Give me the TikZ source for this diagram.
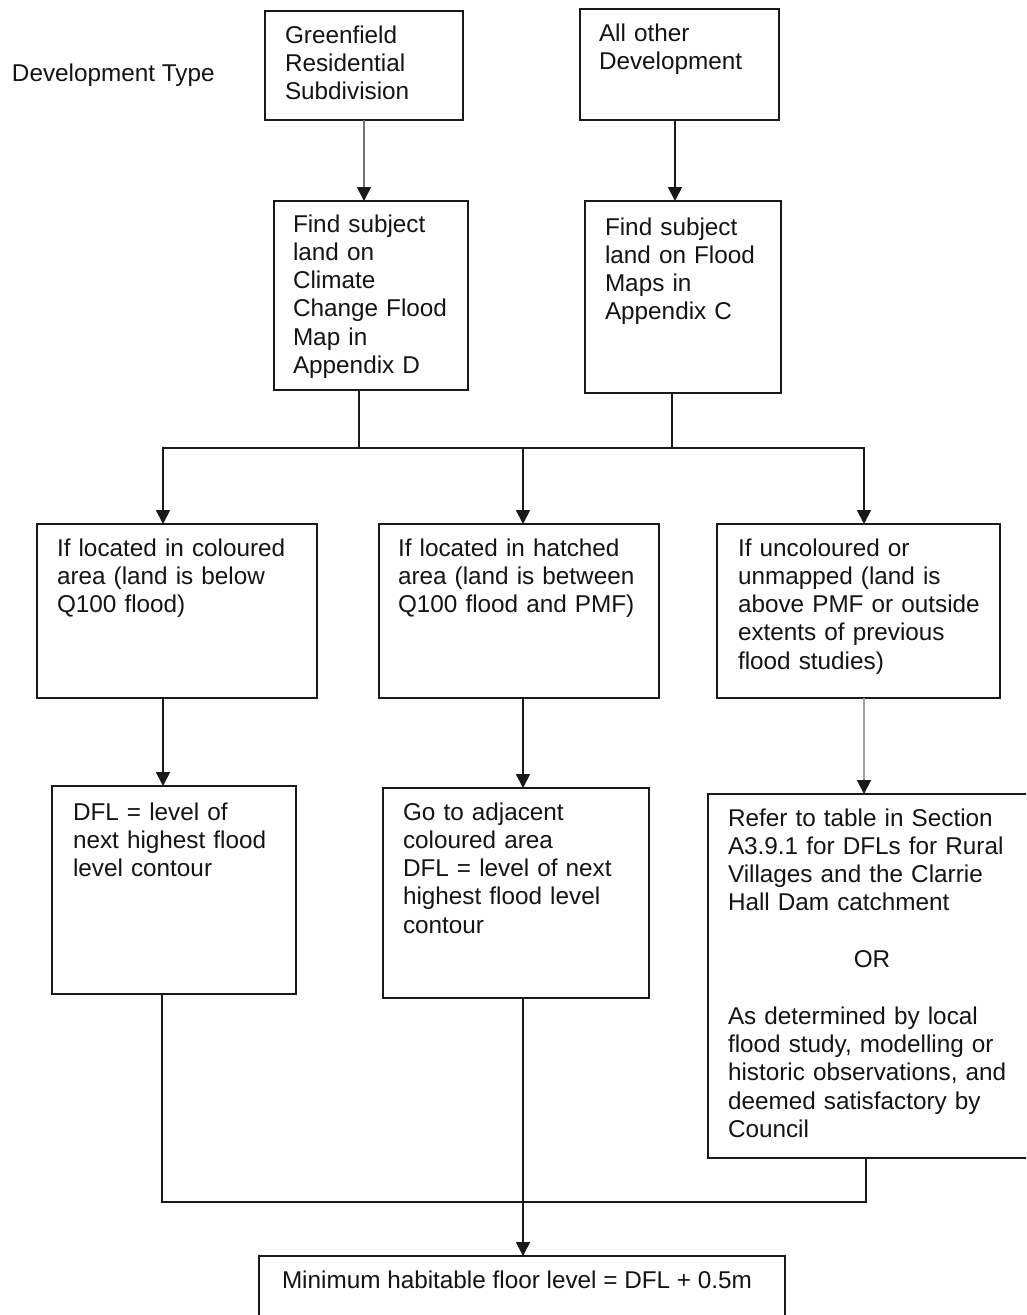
\documentclass[tikz,border=0pt]{standalone}
\usepackage{fontspec}
\setmainfont{Liberation Sans}
\usetikzlibrary{arrows.meta}
\begin{document}
\begin{tikzpicture}[x=1pt,y=-1pt,
  box/.style={draw=black!90, line width=1.9pt, rectangle, inner sep=0pt, outer sep=0pt, anchor=north west},
  txt/.style={anchor=base west, inner sep=0pt, outer sep=0pt, text width=#1, align=left,
              font=\fontsize{24.3}{28.3}\selectfont, text=black!92},
  lbl/.style={anchor=base west, inner sep=0pt, outer sep=0pt, font=\fontsize{24.3}{28.3}\selectfont, text=black!92},
  ln/.style={line width=1.8pt, draw=black!90},
  arr/.style={ln, -{Triangle[width=14pt,length=14pt]}},
  garr/.style={line width=1.8pt, draw=black!55, -{Triangle[width=14pt,length=14pt,color=black!90]}},
  lgarr/.style={line width=1.8pt, draw=black!38, -{Triangle[width=14pt,length=14pt,color=black!90]}}
]
\clip (0,0) rectangle (1026,1315);
\fill[white] (0,0) rectangle (1026,1315);

% label
\node[lbl] (dt) at (12,81) {Development Type};

% boxes
\node[box, minimum width=198pt, minimum height=109pt] (g) at (265,11) {};
\node[txt=170pt] (gt) at (285,43) {Greenfield\\ Residential\\ Subdivision};

\node[box, minimum width=199pt, minimum height=111pt] (a) at (580,9) {};
\node[txt=170pt] (at) at (599,41) {All other\\ Development};

\node[box, minimum width=194pt, minimum height=189pt] (c) at (274,201) {};
\node[txt=170pt] (ct) at (293,232) {Find subject\\ land on\\ Climate\\ Change Flood\\ Map in\\ Appendix D};

\node[box, minimum width=196pt, minimum height=192pt] (f) at (585,201) {};
\node[txt=170pt] (ft) at (605,235) {Find subject\\ land on Flood\\ Maps in\\ Appendix C};

\node[box, minimum width=280pt, minimum height=174pt] (l1) at (37,524) {};
\node[txt=250pt] (l1t) at (57,556) {If located in coloured\\ area (land is below\\ Q100 flood)};

\node[box, minimum width=280pt, minimum height=174pt] (m1) at (379,524) {};
\node[txt=255pt] (m1t) at (398,556) {If located in hatched\\ area (land is between\\ Q100 flood and PMF)};

\node[box, minimum width=283pt, minimum height=174pt] (r1) at (717,524) {};
\node[txt=255pt] (r1t) at (738,556) {If uncoloured or\\ unmapped (land is\\ above PMF or outside\\ extents of previous\\ flood studies)};

\node[box, minimum width=244pt, minimum height=208pt] (l2) at (52,786) {};
\node[txt=220pt] (l2t) at (73,820) {DFL = level of\\ next highest flood\\ level contour};

\node[box, minimum width=266pt, minimum height=210pt] (m2) at (383,788) {};
\node[txt=240pt] (m2t) at (403,820) {Go to adjacent\\ coloured area\\ DFL = level of next\\ highest flood level\\ contour};

\node[box, minimum width=332pt, minimum height=364pt] (r2) at (708,794) {};
\node[txt=288pt] (r2t) at (728,826) {Refer to table in Section\\ A3.9.1 for DFLs for Rural\\ Villages and the Clarrie\\ Hall Dam catchment\par\vspace{28.3pt}\centering OR\par\vspace{28.3pt}\raggedright As determined by local\\ flood study, modelling or\\ historic observations, and\\ deemed satisfactory by\\ Council};

\node[box, minimum width=526pt, minimum height=90pt] (b) at (259,1256) {};
\node[lbl] (bt) at (282,1288) {Minimum habitable floor level = DFL + 0.5m};

% helper coordinates
\coordinate (xL) at (163,448);
\coordinate (xM) at (523,448);
\coordinate (xR) at (864,448);
\coordinate (jL) at (162,1202);
\coordinate (jM) at (523,1202);
\coordinate (jR) at (866,1202);

% connectors top
\draw[garr] (g.south) -- (g.south |- c.north);
\draw[arr] ([xshift=-4.5pt]a.south) -- ([xshift=-4.5pt]a.south |- f.north);
\draw[ln] ([xshift=-12pt]c.south) -- ([xshift=-12pt]c.south |- xL);
\draw[ln] ([xshift=-11pt]f.south) -- ([xshift=-11pt]f.south |- xL);
\draw[arr] (xR) -- (xL) -- (xL |- l1.north);
\draw[arr] (xL) -- (xR) -- (xR |- r1.north);
\draw[arr] (xM) -- (xM |- m1.north);

% middle connectors
\draw[arr] (l1.south -| xL) -- (xL |- l2.north);
\draw[arr] (m1.south -| xM) -- (xM |- m2.north);
\draw[lgarr] (r1.south -| xR) -- (xR |- r2.north);

% bottom join
\draw[ln] (l2.south -| jL) -- (jL) -- (jR) -- (r2.south -| jR);
\draw[arr] (m2.south -| jM) -- (jM |- b.north);
\end{tikzpicture}
\end{document}
